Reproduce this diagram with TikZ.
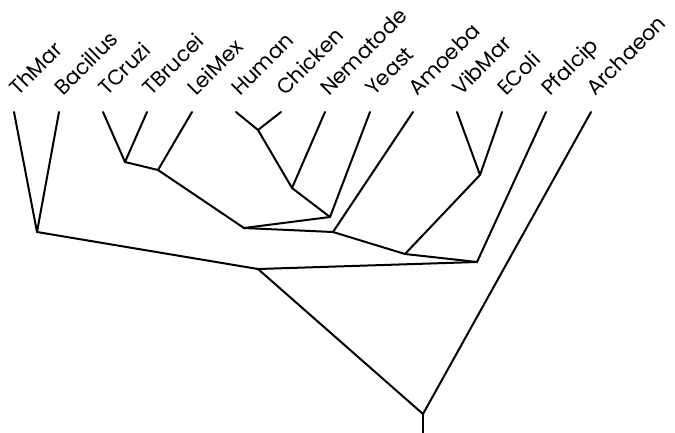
\documentclass[tikz,border=0pt]{standalone}
\usepackage{fontspec}
\setmainfont{Poppins}
\tikzset{
  edge/.style={line width=2pt, line cap=round, line join=round},
  taxon/.style={rotate=45, anchor=base west, inner sep=0pt, font=\fontsize{21}{21}\selectfont}
}
\begin{document}
\begin{tikzpicture}[x=1pt,y=-1pt]
\useasboundingbox (0,0) rectangle (675,432);
% leaves
\foreach \n/\x in {ThMar/14,Bacillus/59,TCruzi/103,TBrucei/147,LeiMex/192,Human/236,Chicken/281,Nematode/325,Yeast/370,Amoeba/413,VibMar/457,EColi/502,Pfalcip/546,Archaeon/591}{
  \coordinate (\n) at (\x,112);
  \node[taxon] (lab\n) at (\x+4,97) {\n};
}
% internal nodes
\coordinate (A) at (37,232);
\coordinate (B) at (125,162);
\coordinate (C) at (158,170);
\coordinate (D) at (258,130);
\coordinate (E) at (292,188);
\coordinate (F) at (330,217);
\coordinate (G) at (244,228);
\coordinate (H) at (333,232);
\coordinate (I) at (480,175);
\coordinate (J) at (405,254);
\coordinate (K) at (477,262);
\coordinate (L) at (258,269);
\coordinate (R) at (423,414);
\coordinate (stem) at (423,433);
\draw[edge] (ThMar) -- (A) -- (Bacillus);
\draw[edge] (TCruzi) -- (B) -- (TBrucei);
\draw[edge] (B) -- (C) -- (LeiMex);
\draw[edge] (Human) -- (D) -- (Chicken);
\draw[edge] (D) -- (E) -- (Nematode);
\draw[edge] (E) -- (F) -- (Yeast);
\draw[edge] (C) -- (G) -- (F);
\draw[edge] (G) -- (H) -- (Amoeba);
\draw[edge] (VibMar) -- (I) -- (EColi);
\draw[edge] (H) -- (J) -- (I);
\draw[edge] (J) -- (K) -- (Pfalcip);
\draw[edge] (A) -- (L) -- (K);
\draw[edge] (L) -- (R) -- (Archaeon);
\draw[edge] (R) -- (stem);
\end{tikzpicture}
\end{document}
